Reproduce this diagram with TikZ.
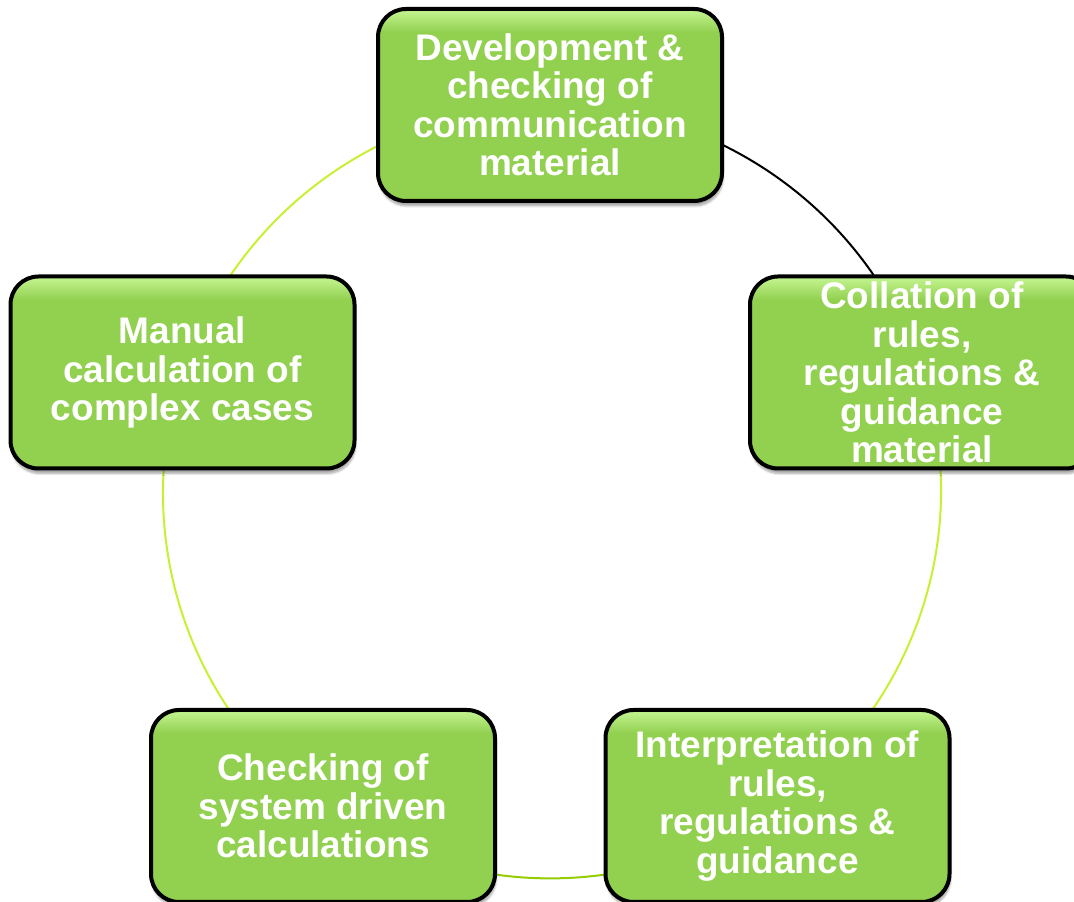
\documentclass[tikz,border=0pt]{standalone}
\usepackage{fontspec}
\setmainfont{Liberation Sans}
\usetikzlibrary{shadows.blur,backgrounds}
\definecolor{leaf}{HTML}{92D050}
\definecolor{leaftop}{HTML}{BDF088}
\definecolor{ringside}{RGB}{200,240,50}
\definecolor{ringbottom}{RGB}{150,205,0}
\newcommand{\stagefont}{\bfseries\fontsize{37}{38.5}\selectfont}
\pgfdeclareverticalshading{leafglow}{100bp}{color(0bp)=(leaf); color(69bp)=(leaf);
  color(74bp)=(leaftop); color(100bp)=(leaftop)}
\tikzset{
  stage/.style={rectangle, rounded corners=28pt, draw=black, line width=4pt,
    shading=leafglow, text=white, font=\stagefont, align=center, inner sep=0pt,
    minimum width=344pt, minimum height=192pt,
    blur shadow={shadow xshift=1pt, shadow yshift=-5pt, shadow blur steps=6, shadow opacity=35}},
  link/.style={line width=2pt, looseness=0.94}
}
\begin{document}
\begin{tikzpicture}[x=1pt,y=1pt]
  \useasboundingbox (0,0) rectangle (1074,902);
  \path (550,797) node[stage] (dev) {Development \&\\checking of\\communication\\material};
  \path (922,529.5) node[stage] (col) {Collation of\\rules,\\regulations \&\\guidance\\material};
  \path (777.5,96) node[stage] (int) {Interpretation of\\rules,\\regulations \&\\guidance};
  \path (323,96) node[stage] (chk) {Checking of\\system driven\\calculations};
  \path (182.5,529.5) node[stage] (man) {Manual\\calculation of\\complex cases};

  \begin{pgfonlayer}{background}
    \draw[link, black] (dev.center) to[out=0, in=108.4] (col.center);
    \draw[link, ringside] (col.center) to[out=-71.6, in=35.4] (int.center);
    \draw[link, ringbottom] (int.center) to[out=215.4, in=-35.4] (chk.center);
    \draw[link, ringside] (chk.center) to[out=144.6, in=-108.4] (man.center);
    \draw[link, ringside] (man.center) to[out=71.6, in=180] (dev.center);
  \end{pgfonlayer}
\end{tikzpicture}
\end{document}
